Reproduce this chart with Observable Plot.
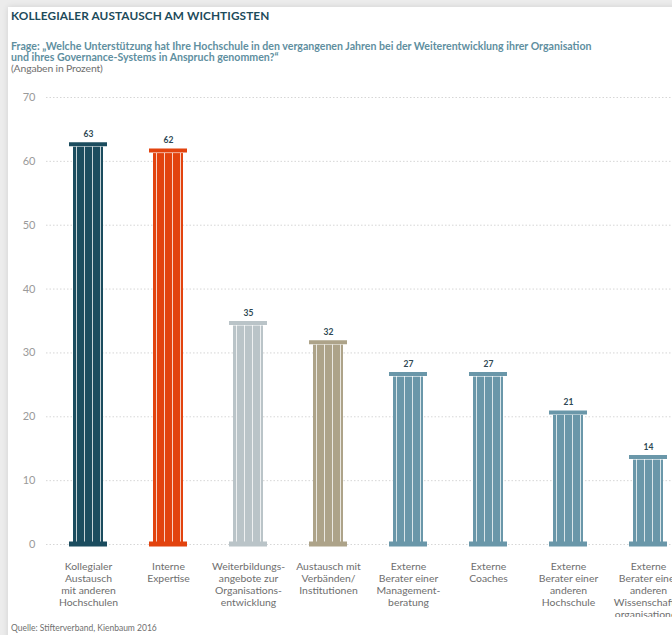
<!DOCTYPE html>
<html>
<head>
<meta charset="utf-8">
<script src="https://cdn.jsdelivr.net/npm/d3@7"></script>
<script src="https://cdn.jsdelivr.net/npm/@observablehq/plot@0.6"></script>
<style>
  html, body { margin: 0; padding: 0; background: #ececec; width: 672px; height: 635px; overflow: hidden; font-family: Lato, "Open Sans", sans-serif; }
  #card { position: absolute; left: 8px; top: 7px; width: 700px; height: 640px; background: #fff; box-shadow: 0 0 6px rgba(0,0,0,0.12); }
  #title { position: absolute; left: 3px; top: 1px; font-size: 11.8px; font-weight: 700; color: #1d4b5b; letter-spacing: 0.1px; }
  #sub { position: absolute; left: 3px; top: 34px; font-size: 10.6px; font-weight: 700; color: #5f8f9f; line-height: 11px; }
  #unit { position: absolute; left: 3px; top: 56px; font-size: 10.4px; color: #6f6f6f; line-height: 11px; letter-spacing: -0.15px; }
  #chart { position: absolute; left: 0; top: 73px; }
  #foot { position: absolute; left: 3px; top: 616px; font-size: 8.5px; color: #6f6f6f; }
</style>
</head>
<body>
<div id="card">
  <div id="title">KOLLEGIALER AUSTAUSCH AM WICHTIGSTEN</div>
  <div id="sub">Frage: „Welche Unterstützung hat Ihre Hochschule in den vergangenen Jahren bei der Weiterentwicklung ihrer Organisation<br>und ihres Governance-Systems in Anspruch genommen?“</div>
  <div id="unit">(Angaben in Prozent)</div>
  <div id="chart"></div>
  <div id="foot">Quelle: Stifterverband, Kienbaum 2016</div>
</div>
<script>
const categories = [
  "Kollegialer\nAustausch\nmit anderen\nHochschulen",
  "Interne\nExpertise",
  "Weiterbildungs-\nangebote zur\nOrganisations-\nentwicklung",
  "Austausch mit\nVerbänden/\nInstitutionen",
  "Externe\nBerater einer\nManagement-\nberatung",
  "Externe\nCoaches",
  "Externe\nBerater einer\nanderen\nHochschule",
  "Externe\nBerater einer\nanderen\nWissenschafts-\norganisationen"
];
const values = [63, 62, 35, 32, 27, 27, 21, 14];
const colors = ["#1b4c5e", "#e2430e", "#bac4c8", "#ada389", "#6a97a9", "#6a97a9", "#6a97a9", "#6a97a9"];
const yTicks = [0, 10, 20, 30, 40, 50, 60, 70];

const data = categories.map((c, i) => ({cat: c, value: values[i], color: colors[i]}));
const fluteOffsets = [-12, -4, 4, 12];

const chart = Plot.plot({
  width: 664,
  height: 537,
  marginTop: 17,
  marginBottom: 73,
  marginLeft: 38,
  marginRight: 0,
  style: {fontFamily: "Lato, 'Open Sans', sans-serif", background: "transparent", overflow: "hidden"},
  x: {type: "band", domain: categories, range: [40, 680], padding: 0, axis: null},
  y: {domain: [0, 70], ticks: yTicks, axis: null},
  marks: [
    Plot.ruleY(yTicks, {stroke: "#cccccc", strokeDasharray: "1.5,2", strokeWidth: 0.8}),
    Plot.axisY({ticks: yTicks, tickSize: 0, tickPadding: 11, fontSize: 11, fill: "#9a9a9a", label: null}),
    Plot.barY(data, {x: "cat", y1: 0, y2: "value", fill: "color", insetLeft: 25, insetRight: 25, insetTop: 5, insetBottom: 2}),
    ...fluteOffsets.map(o => Plot.ruleX(data, {x: "cat", y1: 0, y2: "value", dx: o, stroke: "white", strokeOpacity: 0.75, strokeWidth: 1, insetTop: 6, insetBottom: 3})),
    Plot.tickY(data, {x: "cat", y: "value", stroke: "color", strokeWidth: 4, insetLeft: 21, insetRight: 21, dy: 2}),
    Plot.tickY(data, {x: "cat", y: 0, stroke: "color", strokeWidth: 5, insetLeft: 21, insetRight: 21, dy: -0.5}),
    Plot.text(data, {x: "cat", y: "value", text: d => String(d.value), dy: -8, fontSize: 8.5, fontWeight: 700, fill: "#2e4853"}),
    Plot.text(data, {x: "cat", y: 0, text: "cat", dy: 17, lineAnchor: "top", lineHeight: 1.15, fontSize: 10.4, fill: "#6e6e6e"})
  ]
});
document.getElementById("chart").appendChild(chart);
</script>
</body>
</html>
